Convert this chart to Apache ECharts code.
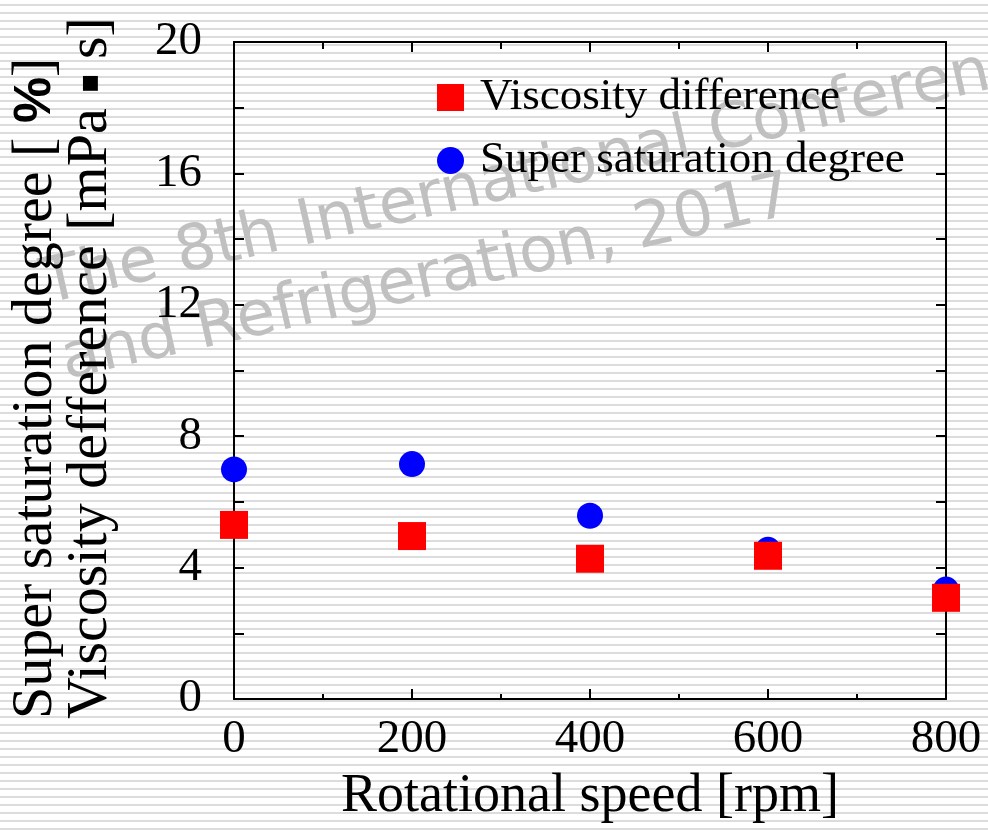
<!DOCTYPE html>
<html>
<head>
<meta charset="utf-8">
<script src="https://cdn.jsdelivr.net/npm/echarts@6/dist/echarts.min.js"></script>
<style>
  html, body { margin: 0; padding: 0; background: #ffffff; }
  #chart {
    width: 988px; height: 830px;
    background-image: repeating-linear-gradient(to bottom, transparent 0px, transparent 4px, #dcdcdc 4px, #dcdcdc 6px, transparent 6px, transparent 8px);
  }
</style>
</head>
<body>
<div id="chart"></div>
<script>
// ---- data ----
const rotationalSpeed = [0, 200, 400, 600, 800];          // rpm
const viscosityDifference = [5.30, 4.96, 4.27, 4.36, 3.08]; // mPa·s
const superSaturationDegree = [6.99, 7.15, 5.58, 4.54, 3.33]; // %
const seriesNames = ['Viscosity difference', 'Super saturation degree'];
const xTickValues = [0, 200, 400, 600, 800];
const yTickValues = [0, 4, 8, 12, 16, 20];
const xTitle = 'Rotational speed [rpm]';
const yTitleLine1 = ['Super saturation degree [ ', '%', ']'];
const yTitleLine2 = ['Viscosity defference [mPa ', '▪', ' s]'];
const watermarkLines = ['The 8th International Conference on Compressors', 'and Refrigeration, 2017'];

const serif = 'Liberation Serif';
const chart = echarts.init(document.getElementById('chart'), null, { renderer: 'canvas' });

const pairs = (ys) => rotationalSpeed.map((x, i) => [x, ys[i]]);
const axisLineStyle = { color: '#000', width: 2 };

const option = {
  backgroundColor: 'transparent',
  animation: false,
  grid: { left: 234, right: 42, top: 42, bottom: 131, containLabel: false },
  legend: {
    orient: 'vertical',
    left: 432, top: 70,
    itemWidth: 27, itemHeight: 27, itemGap: 18,
    data: [seriesNames[0], seriesNames[1]],
    textStyle: { fontFamily: serif, fontSize: 45, color: '#000', padding: [0, 0, 0, 11] }
  },
  xAxis: [
    {
      type: 'value', position: 'bottom', min: 0, max: 800, interval: 200,
      name: xTitle, nameLocation: 'middle', nameGap: 71,
      nameTextStyle: { fontFamily: serif, fontSize: 54, color: '#000' },
      axisLine: { show: true, onZero: false, lineStyle: axisLineStyle },
      axisTick: { show: true, inside: true, length: 10, lineStyle: axisLineStyle },
      minorTick: { show: true, splitNumber: 2, length: 5, lineStyle: axisLineStyle },
      axisLabel: {
        show: true, margin: 17, fontFamily: serif, fontSize: 47, color: '#000',
        formatter: (v) => xTickValues.includes(v) ? String(v) : ''
      },
      splitLine: { show: false }
    },
    {
      type: 'value', position: 'top', min: 0, max: 800, interval: 200,
      axisLine: { show: true, onZero: false, lineStyle: axisLineStyle },
      axisTick: { show: true, inside: true, length: 10, lineStyle: axisLineStyle },
      minorTick: { show: true, splitNumber: 2, length: 7, lineStyle: axisLineStyle },
      axisLabel: { show: false },
      splitLine: { show: false }
    }
  ],
  yAxis: [
    {
      type: 'value', position: 'left', min: 0, max: 20, interval: 2,
      axisLine: { show: true, onZero: false, lineStyle: axisLineStyle },
      axisTick: { show: true, inside: true, length: 10, lineStyle: axisLineStyle },
      axisLabel: {
        show: true, margin: 32, fontFamily: serif, fontSize: 47, color: '#000',
        formatter: (v) => yTickValues.includes(v) ? String(v) : ''
      },
      splitLine: { show: false }
    },
    {
      type: 'value', position: 'right', min: 0, max: 20, interval: 2,
      axisLine: { show: true, onZero: false, lineStyle: axisLineStyle },
      axisTick: { show: true, inside: true, length: 10, lineStyle: axisLineStyle },
      axisLabel: { show: false },
      splitLine: { show: false }
    }
  ],
  graphic: [
    {
      type: 'group', x: 50, y: 318, rotation: 12.8 * Math.PI / 180, z: -5, silent: true,
      children: [
        { type: 'text', x: 0, y: 0, style: { text: watermarkLines[0], font: '63px "DejaVu Sans"', fill: '#c0c0c0', align: 'left', verticalAlign: 'bottom' } },
        { type: 'text', x: 2, y: 78, style: { text: watermarkLines[1], font: '63px "DejaVu Sans"', fill: '#c0c0c0', align: 'left', verticalAlign: 'bottom' } }
      ]
    },
    {
      type: 'text', x: 8, y: 719, rotation: Math.PI / 2, z: 10,
      style: {
        text: '{n|' + yTitleLine1[0] + '}{b|' + yTitleLine1[1] + '}{n|' + yTitleLine1[2] + '}\n' +
              '{n|' + yTitleLine2[0] + '}{d|' + yTitleLine2[1] + '}{n|' + yTitleLine2[2] + '}',
        align: 'left', verticalAlign: 'top', fill: '#000',
        font: '58px "Liberation Serif"',
        rich: {
          n: { font: '58px "Liberation Serif"', fontFamily: serif, fontSize: 58, lineHeight: 55, fill: '#000' },
          b: { font: 'bold 52px "Liberation Sans"', fontFamily: 'Liberation Sans', fontWeight: 'bold', fontSize: 52, lineHeight: 55, fill: '#000' },
          d: { font: '30px "DejaVu Sans"', fontFamily: 'DejaVu Sans', fontSize: 30, lineHeight: 55, fill: '#000' }
        }
      }
    }
  ],
  series: [
    {
      name: seriesNames[1], type: 'scatter', xAxisIndex: 0, yAxisIndex: 0,
      symbol: 'circle', symbolSize: 26,
      itemStyle: { color: '#0000ff', opacity: 1 },
      data: pairs(superSaturationDegree), z: 3
    },
    {
      name: seriesNames[0], type: 'scatter', xAxisIndex: 0, yAxisIndex: 0,
      symbol: 'rect', symbolSize: 28,
      itemStyle: { color: '#ff0000', opacity: 1 },
      data: pairs(viscosityDifference), z: 4
    }
  ]
};
chart.setOption(option);
</script>
</body>
</html>
